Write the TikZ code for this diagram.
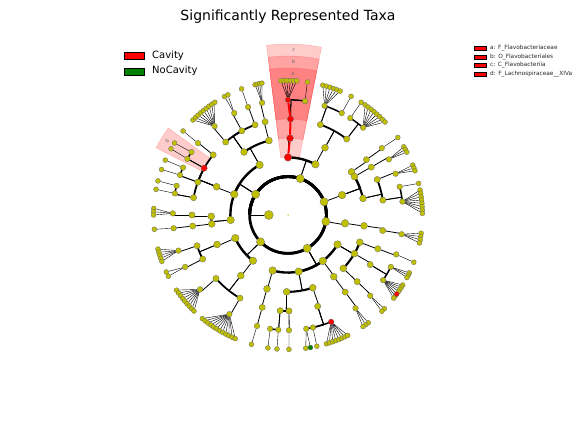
\documentclass[tikz,border=0pt]{standalone}
\usepackage{fontspec}
\setmainfont{DejaVu Sans}

\pgfdeclarelayer{sectors}
\pgfdeclarelayer{edges}
\pgfsetlayers{sectors,edges,main}

\definecolor{taxyellow}{RGB}{192,192,0}
\definecolor{nocav}{RGB}{0,128,0}

\tikzset{
  tx/.style={circle, draw=black!60, line width=0.3pt, fill=taxyellow, inner sep=0pt},
  radial/.style={line width=0.8pt},
  fanline/.style={line width=0.4pt},
  redlink/.style={red, line width=2pt},
  sector/.style={fill=red, fill opacity=0.2, draw=red, draw opacity=0.25, line width=0.4pt},
  sectorlabel/.style={font=\fontsize{5}{6}\selectfont, text=black!60, inner sep=0pt},
  legendbox/.style={draw=black, line width=0.5pt, minimum width=20pt, minimum height=7pt, inner sep=0pt},
  keybox/.style={draw=black, line width=0.4pt, fill=red, minimum width=12pt, minimum height=4pt, inner sep=0pt}
}

% taxon: [style]{name}{angle}{level}{parent}
\newcommand{\tnode}[5][]{%
  \pgfmathsetmacro\tsz{9.5-0.65*#4}%
  \pgfmathsetmacro\trad{19.2*#4}%
  \node[tx, minimum size=\tsz pt, #1] (#2) at (#3:\trad) {};
  \expandafter\xdef\csname ta@#2\endcsname{#3}%
  \begin{pgfonlayer}{edges}
    \ifnum#4=7\relax
      \draw[fanline] (#5) -- (#2);
    \else
      \edef\pa{\csname ta@#5\endcsname}%
      \pgfmathsetmacro\tlw{3.3-0.3*#4}%
      \draw[radial] (#5) -- (\pa:\trad);
      \draw[line width=\tlw pt] (\pa:\trad) arc[start angle=\pa, end angle=#3, radius=\trad];
    \fi
  \end{pgfonlayer}}

% clade sector: {name}{from}{to}{inner}{outer}{letter}
\newcommand{\cladesector}[6]{%
  \begin{pgfonlayer}{sectors}
    \path[sector] (#2:#4) arc[start angle=#2, end angle=#3, radius=#4]
      -- (#3:#5) arc[start angle=#3, end angle=#2, radius=#5] -- cycle;
  \end{pgfonlayer}
  \node[sectorlabel, rotate={(#2+#3)/2-90}] (#1) at ({(#2+#3)/2}:{#5-6}) {#6};}

\begin{document}
\begin{tikzpicture}[x=1pt, y=1pt]
  \useasboundingbox (0,0) rectangle (576,432);

  % Title and legends
  \node[font=\fontsize{14}{16}\selectfont] (title) at (288,415) {Significantly Represented Taxa};
  \node[legendbox, fill=red] (cavbox) at (134,376) {};
  \node[anchor=west, inner sep=0pt, font=\fontsize{10}{12}\selectfont] (cavtext) at (152,376) {Cavity};
  \node[legendbox, fill=nocav] (nocavbox) at (134,360.5) {};
  \node[anchor=west, inner sep=0pt, font=\fontsize{10}{12}\selectfont] (nocavtext) at (152,361) {NoCavity};

  \foreach \y/\t [count=\i] in {384/{a: F\_Flavobacteriaceae}, 375/{b: O\_Flavobacteriales},
      367/{c: C\_Flavobacteriia}, 358/{d: F\_Lachnospiraceae\_\_XIVa}} {
    \node[keybox] (key\i) at (480,\y) {};
    \node[anchor=west, inner sep=0pt, font=\fontsize{5.8}{7}\selectfont, text=black!85] (keytext\i) at (490,\y) {\t};
  }

  \begin{scope}[shift={(288,217)}]
    % Root and kingdom
    \node[tx, minimum size=1.5pt, draw=none] (root) at (0,0) {};
    \node[tx, minimum size=9pt] (k) at (180:19.2) {};
    \expandafter\xdef\csname ta@k\endcsname{180}
    \begin{pgfonlayer}{edges}
      \draw[line width=2.7pt] (180:38.4) arc[start angle=180, end angle=-180, radius=38.4];
    \end{pgfonlayer}

    % Phyla
    \tnode{pA}{71.4}{2}{k}
    \tnode{pB}{20.1}{2}{k}
    \tnode{pC}{-9.8}{2}{k}
    \tnode{pD}{-60.1}{2}{k}
    \tnode{pE}{-135.7}{2}{k}
    \tnode{pF}{147.4}{2}{k}

    % Phylum A (Flavobacteriia)
    \tnode[fill=red]{cFl}{90}{3}{pA}
    \tnode[fill=red]{oFl}{88.5}{4}{cFl}
    \tnode[fill=red]{fFl}{88.5}{5}{oFl}
    \tnode[fill=red]{gA1}{90}{6}{fFl}
    \tnode{gA2}{81.5}{6}{fFl}
    \foreach \a [count=\i] in {93,91.7,90.4,89,87.6,86.3} {\tnode{gA1s\i}{\a}{7}{gA1}}
    \tnode{gA2s}{81.7}{7}{gA2}
    \tnode{cA2}{61.6}{3}{pA}
    \tnode{oA2}{61.2}{4}{cA2}
    \tnode{fA2}{70.3}{5}{oA2}
    \tnode{fA3}{52.3}{5}{oA2}
    \tnode{gA3}{71.5}{6}{fA2}
    \tnode{gA4}{62.2}{6}{fA2}
    \foreach \a [count=\i] in {75,73.4,71.8,70.2,68.7,67.2} {\tnode{gA3s\i}{\a}{7}{gA3}}
    \tnode{gA4s}{62}{7}{gA4}
    \tnode{gA5}{57.3}{6}{fA3}
    \tnode{gA6}{49.3}{6}{fA3}
    \tnode{gA5s}{57}{7}{gA5}
    \foreach \a [count=\i] in {55,53.4,51.8,50.2,48.6,47,45.4,43.8} {\tnode{gA6s\i}{\a}{7}{gA6}}

    % Phylum B
    \tnode{cB}{20.2}{3}{pB}
    \tnode{oB1}{34.2}{4}{cB}
    \tnode{oB2}{30}{4}{cB}
    \tnode{oB3}{12.5}{4}{cB}
    \tnode{fB1}{35.2}{5}{oB1}
    \tnode{gB1}{35.5}{6}{fB1}
    \tnode{gB1s}{35.2}{7}{gB1}
    \tnode{fB2}{29.9}{5}{oB2}
    \tnode{gB2}{28.9}{6}{fB2}
    \foreach \a [count=\i] in {30.5,29.2,27.9} {\tnode{gB2s\i}{\a}{7}{gB2}}
    \tnode{fB3}{21.7}{5}{oB3}
    \tnode{fB4}{8.9}{5}{oB3}
    \tnode{gB3}{21}{6}{fB3}
    \foreach \a [count=\i] in {21.8,20.5,19.2} {\tnode{gB3s\i}{\a}{7}{gB3}}
    \tnode{gB4}{14.2}{6}{fB4}
    \tnode{gB5}{6.7}{6}{fB4}
    \tnode{gB4s}{13.6}{7}{gB4}
    \foreach \a [count=\i] in {10.7,9.3,7.8,6.4,5,3.6,2.1,0.7} {\tnode{gB5s\i}{\a}{7}{gB5}}

    % Phylum C
    \tnode{cC}{-8.3}{3}{pC}
    \tnode{oC}{-8.1}{4}{cC}
    \tnode{fC}{-9.3}{5}{oC}
    \tnode{gC}{-9.6}{6}{fC}
    \foreach \a [count=\i] in {-7.8,-9.2,-10.6,-12} {\tnode{gCs\i}{\a}{7}{gC}}

    % Phylum D
    \tnode{cD1}{-30.8}{3}{pD}
    \tnode{cD2}{-52.9}{3}{pD}
    \tnode{cD3}{-79.3}{3}{pD}
    \tnode{cD4}{-105.5}{3}{pD}
    \tnode{oD1}{-20.8}{4}{cD1}
    \tnode{oD2}{-30.2}{4}{cD1}
    \tnode{oD3}{-44}{4}{cD1}
    \tnode{fD1}{-20.6}{5}{oD1}
    \tnode{gD1}{-20}{6}{fD1}
    \tnode{gD1s}{-20.6}{7}{gD1}
    \tnode{fD2}{-31.1}{5}{oD2}
    \tnode{gD2}{-26.8}{6}{fD2}
    \tnode{gD3}{-34.4}{6}{fD2}
    \foreach \a [count=\i] in {-25.5,-26.6,-27.7} {\tnode{gD2s\i}{\a}{7}{gD2}}
    \foreach \a [count=\i] in {-31.4,-32.5,-33.6,-34.7,-37.1,-38.2} {\tnode{gD3s\i}{\a}{7}{gD3}}
    \tnode[fill=red]{gD3r}{-36}{7}{gD3}
    \tnode{fD3}{-43.9}{5}{oD3}
    \tnode{gD4}{-44.5}{6}{fD3}
    \foreach \a [count=\i] in {-44.2,-45.7} {\tnode{gD4s\i}{\a}{7}{gD4}}
    \tnode{oD4}{-53.4}{4}{cD2}
    \tnode{fD4}{-53.4}{5}{oD4}
    \tnode{gD5}{-54.1}{6}{fD4}
    \foreach \a [count=\i] in {-53.3,-54.7,-56.1} {\tnode{gD5s\i}{\a}{7}{gD5}}
    \tnode{oD5}{-71.2}{4}{cD3}
    \tnode{oD6}{-91}{4}{cD3}
    \tnode{fD5}{-72}{5}{oD5}
    \tnode{gD6}{-80.9}{6}{fD5}
    \tnode{gD7}{-77.5}{6}{fD5}
    \tnode[fill=red]{gD8}{-68}{6}{fD5}
    \tnode{gD6s}{-82.4}{7}{gD6}
    \tnode[fill=nocav]{gD6g}{-80.4}{7}{gD6}
    \tnode{gD7s}{-77.6}{7}{gD7}
    \foreach \a [count=\i] in {-73.4,-72,-70.6,-69.2,-67.8,-66.4,-65,-63.6} {\tnode{gD8s\i}{\a}{7}{gD8}}
    \tnode{fD6}{-94.7}{5}{oD6}
    \tnode{fD7}{-89.4}{5}{oD6}
    \tnode{gD9}{-98.9}{6}{fD6}
    \tnode{gD10}{-94.8}{6}{fD6}
    \tnode{gD9s}{-98.6}{7}{gD9}
    \tnode{gD10s}{-94.7}{7}{gD10}
    \tnode{gD11}{-89.5}{6}{fD7}
    \tnode{gD11s}{-89.6}{7}{gD11}
    \tnode{oD7}{-105.9}{4}{cD4}
    \tnode{fD8}{-105.6}{5}{oD7}
    \tnode{gD12}{-105.6}{6}{fD8}
    \tnode{gD12s}{-105.8}{7}{gD12}

    % Phylum E
    \tnode{cE1}{-127.5}{3}{pE}
    \tnode{cE2}{-156.3}{3}{pE}
    \tnode{oE1}{-127.9}{4}{cE1}
    \tnode{fE1}{-138.6}{5}{oE1}
    \tnode{fE2}{-120}{5}{oE1}
    \tnode{gE1}{-139.8}{6}{fE1}
    \tnode{gE2}{-120.6}{6}{fE2}
    \foreach \a [count=\i] in {-146,-144.5,-143.1,-141.6,-140.2,-138.7,-137.3,-135.8,-134.4} {\tnode{gE1s\i}{\a}{7}{gE1}}
    \foreach \a [count=\i] in {-129.6,-128.1,-126.6,-125.1,-123.6,-122.1,-120.6,-119.1,-117.6,-116.1,-114.6,-113.1} {\tnode{gE2s\i}{\a}{7}{gE2}}
    \tnode{oE2}{-157.4}{4}{cE2}
    \tnode{fE3}{-161.3}{5}{oE2}
    \tnode{fE4}{-152.7}{5}{oE2}
    \tnode{gE3}{-162}{6}{fE3}
    \tnode{gE4}{-153.2}{6}{fE4}
    \foreach \a [count=\i] in {-165.3,-163.9,-162.6,-161.2,-159.8} {\tnode{gE3s\i}{\a}{7}{gE3}}
    \foreach \a [count=\i] in {-154.9,-152.9} {\tnode{gE4s\i}{\a}{7}{gE4}}

    % Phylum F
    \tnode{cF1}{158.9}{3}{pF}
    \tnode{cF2}{119.6}{3}{pF}
    \tnode{cF3}{185}{3}{pF}
    \tnode{oF1}{158.4}{4}{cF1}
    \tnode{fF1}{169.6}{5}{oF1}
    \tnode{fF2}{160}{5}{oF1}
    \tnode[fill=red]{fFd}{150.8}{5}{oF1}
    \tnode{fF3}{141.2}{5}{oF1}
    \tnode{gF1}{169.2}{6}{fF1}
    \tnode{gF2}{165.3}{6}{fF1}
    \tnode{gF1s}{169}{7}{gF1}
    \tnode{gF2s}{165.3}{7}{gF2}
    \tnode{gF3}{159.7}{6}{fF2}
    \tnode{gF4}{155.7}{6}{fF2}
    \tnode{gF3s}{160.2}{7}{gF3}
    \tnode{gF4s}{155.9}{7}{gF4}
    \tnode{gFd1}{150.8}{6}{fFd}
    \tnode{gFd2}{146.9}{6}{fFd}
    \tnode{gFd1s}{150.5}{7}{gFd1}
    \tnode{gFd2s}{147.6}{7}{gFd2}
    \tnode{gF5}{141.4}{6}{fF3}
    \tnode{gF5s}{141.3}{7}{gF5}
    \tnode{oF2}{124.9}{4}{cF2}
    \tnode{oF3}{104.4}{4}{cF2}
    \tnode{fF4}{130.5}{5}{oF2}
    \tnode{fF5}{118.7}{5}{oF2}
    \tnode{fF6}{110.1}{5}{oF2}
    \tnode{gF6}{129.6}{6}{fF4}
    \foreach \a [count=\i] in {135,133.5,132,130.5,129,127.5,126,124.5,123} {\tnode{gF6s\i}{\a}{7}{gF6}}
    \tnode{gF7}{117.8}{6}{fF5}
    \foreach \a [count=\i] in {118.2,116.6} {\tnode{gF7s\i}{\a}{7}{gF7}}
    \tnode{gF8}{110.3}{6}{fF6}
    \tnode{gF8s}{110.2}{7}{gF8}
    \tnode{fF7}{103.8}{5}{oF3}
    \tnode{gF9}{103}{6}{fF7}
    \foreach \a [count=\i] in {104.2,103.2,102.2,101.2} {\tnode{gF9s\i}{\a}{7}{gF9}}
    \tnode{oF4}{186.7}{4}{cF3}
    \tnode{oF5}{181}{4}{cF3}
    \tnode{fF8}{186.6}{5}{oF4}
    \tnode{gF10}{186.6}{6}{fF8}
    \tnode{gF10s}{186.1}{7}{gF10}
    \tnode{fF9}{180}{5}{oF5}
    \tnode{gF11}{179.2}{6}{fF9}
    \foreach \a [count=\i] in {177.2,178.6,180} {\tnode{gF11s\i}{\a}{7}{gF11}}

    % Biomarker path
    \begin{pgfonlayer}{edges}
      \draw[redlink] (cFl) -- (oFl) -- (fFl) -- (gA1);
    \end{pgfonlayer}

    % Shaded clades
    \cladesector{labc}{78.7}{97.2}{57.6}{171}{c}
    \cladesector{labb}{78.7}{97.2}{76.8}{159}{b}
    \cladesector{laba}{78.7}{97.2}{96}{147}{a}
    \cladesector{labd}{144}{153}{96}{148}{d}
  \end{scope}
\end{tikzpicture}
\end{document}
